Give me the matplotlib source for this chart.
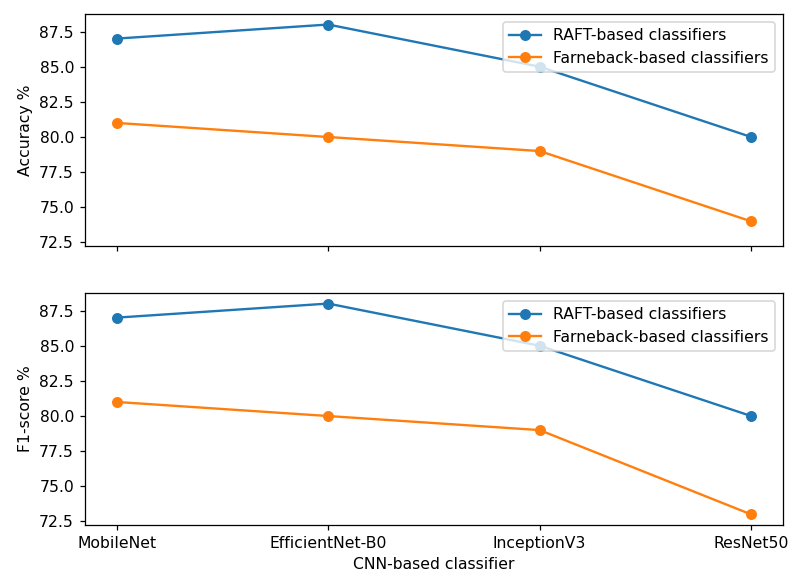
import matplotlib
matplotlib.use("Agg")
import matplotlib.pyplot as plt

classifiers = ["MobileNet", "EfficientNet-B0", "InceptionV3", "ResNet50"]
raft_accuracy = [87, 88, 85, 80]
farneback_accuracy = [81, 80, 79, 74]
raft_f1 = [87, 88, 85, 80]
farneback_f1 = [81, 80, 79, 73]

DPI = 790 / 7.0
fig, (ax1, ax2) = plt.subplots(2, 1, sharex=True, sharey=True, figsize=(7.0, 571 / DPI), dpi=DPI)
fig.subplots_adjust(left=0.1076, right=0.991, top=0.9755, bottom=0.0806, hspace=0.203)

ax1.plot(classifiers, raft_accuracy, marker="o", label="RAFT-based classifiers")
ax1.plot(classifiers, farneback_accuracy, marker="o", label="Farneback-based classifiers")
ax1.set_ylabel("Accuracy %")
ax1.legend(loc="upper right")

ax2.plot(classifiers, raft_f1, marker="o", label="RAFT-based classifiers")
ax2.plot(classifiers, farneback_f1, marker="o", label="Farneback-based classifiers")
ax2.set_ylabel("F1-score %")
ax2.set_xlabel("CNN-based classifier")
ax2.legend(loc="upper right")

fig.savefig("out.png", dpi=DPI)
